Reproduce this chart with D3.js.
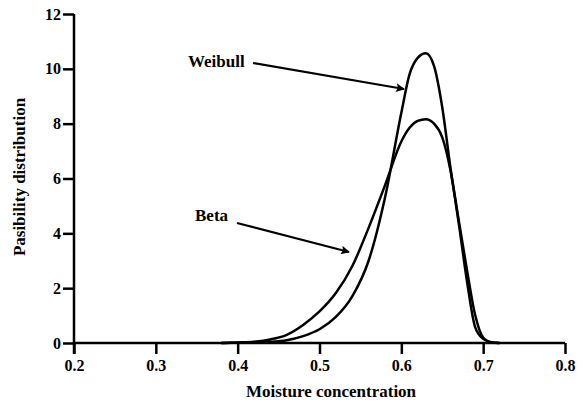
<!DOCTYPE html>
<html>
<head>
<meta charset="utf-8">
<script src="https://cdn.jsdelivr.net/npm/d3@7"></script>
<style>
  body { margin: 0; background: #fff; }
  svg text { font-family: "Liberation Serif", "Times New Roman", serif; font-weight: bold; fill: #000; }
</style>
</head>
<body>
<div id="chart-area"></div>
<script>
// values
var moisture = [0.38, 0.40, 0.42, 0.44, 0.46, 0.48, 0.50, 0.52, 0.54, 0.56, 0.58, 0.60, 0.61, 0.62, 0.63, 0.64, 0.65, 0.66, 0.67, 0.68, 0.69, 0.70, 0.71, 0.72];
var weibull  = [0, 0.01, 0.02, 0.04, 0.1, 0.25, 0.5, 0.95, 1.7, 3.0, 5.3, 8.4, 9.8, 10.4, 10.57, 10.1, 8.6, 6.4, 4.5, 2.7, 1.05, 0.2, 0.02, 0];
var beta     = [0, 0.02, 0.05, 0.13, 0.3, 0.66, 1.15, 1.82, 2.8, 4.2, 5.75, 7.35, 7.85, 8.1, 8.16, 8.0, 7.5, 6.3, 4.4, 2.3, 0.6, 0.15, 0.03, 0];
var xTicks = [0.2, 0.3, 0.4, 0.5, 0.6, 0.7, 0.8];
var yTicks = [0, 2, 4, 6, 8, 10, 12];

var width = 583, height = 406;
var serif = "'Liberation Serif', 'Times New Roman', serif";

var svg = d3.select("#chart-area").append("svg")
    .attr("width", width)
    .attr("height", height);

var x = d3.scaleLinear().domain([0.2, 0.8]).range([74, 565]);
var y = d3.scaleLinear().domain([0, 12]).range([343, 14]);

svg.append("defs").append("marker")
    .attr("id", "arrow")
    .attr("viewBox", "0 0 10 10")
    .attr("refX", 9).attr("refY", 5)
    .attr("markerWidth", 5).attr("markerHeight", 4)
    .attr("markerUnits", "strokeWidth")
    .attr("orient", "auto")
  .append("path")
    .attr("d", "M0,0 L10,5 L0,10 L2,5 Z")
    .attr("fill", "#000");

// axes
var xAxis = svg.append("g")
    .attr("transform", "translate(0," + y(0) + ")")
    .call(d3.axisBottom(x).tickValues(xTicks).tickSize(11).tickSizeOuter(0).tickPadding(6)
      .tickFormat(d3.format(".1f")));
var yAxis = svg.append("g")
    .attr("transform", "translate(" + x(0.2) + ",0)")
    .call(d3.axisLeft(y).tickValues(yTicks).tickSize(11).tickSizeOuter(0).tickPadding(2));

[xAxis, yAxis].forEach(function(g) {
	g.attr("font-family", serif).attr("font-size", 16);
	g.select(".domain").remove();
	g.selectAll("line").attr("stroke", "#000").attr("stroke-width", 2.5);
	g.selectAll("text")
	    .style("font-family", serif)
	    .style("font-weight", "bold")
	    .style("font-size", "16px");
});

svg.append("line")
    .attr("x1", x(0.2)).attr("x2", x(0.8))
    .attr("y1", y(0)).attr("y2", y(0))
    .attr("stroke", "#000").attr("stroke-width", 2.5);
svg.append("line")
    .attr("x1", x(0.2)).attr("x2", x(0.2))
    .attr("y1", y(12)).attr("y2", y(0) + 11)
    .attr("stroke", "#000").attr("stroke-width", 2.5);

// curves
var line = function(vals) {
	return d3.line()
	    .x(function(d, i) { return x(moisture[i]); })
	    .y(function(d) { return y(d); })
	    .curve(d3.curveMonotoneX)(vals);
};

svg.append("path").attr("d", line(beta))
    .attr("fill", "none").attr("stroke", "#000").attr("stroke-width", 2.5);
svg.append("path").attr("d", line(weibull))
    .attr("fill", "none").attr("stroke", "#000").attr("stroke-width", 2.5);

// annotations
svg.append("text").attr("x", 188).attr("y", 67).style("font-size", "17px").text("Weibull");
svg.append("line")
    .attr("x1", 253).attr("y1", 63).attr("x2", 404).attr("y2", 89)
    .attr("stroke", "#000").attr("stroke-width", 2.2)
    .attr("marker-end", "url(#arrow)");

svg.append("text").attr("x", 195).attr("y", 221).style("font-size", "17px").text("Beta");
svg.append("line")
    .attr("x1", 237).attr("y1", 223).attr("x2", 349).attr("y2", 252)
    .attr("stroke", "#000").attr("stroke-width", 2.2)
    .attr("marker-end", "url(#arrow)");

// axis titles
svg.append("text")
    .attr("x", 331).attr("y", 397)
    .attr("text-anchor", "middle")
    .style("font-size", "17px")
    .text("Moisture concentration");
svg.append("text")
    .attr("transform", "translate(25,177) rotate(-90)")
    .attr("text-anchor", "middle")
    .style("font-size", "17px")
    .text("Pasibility distribution");
</script>
</body>
</html>
